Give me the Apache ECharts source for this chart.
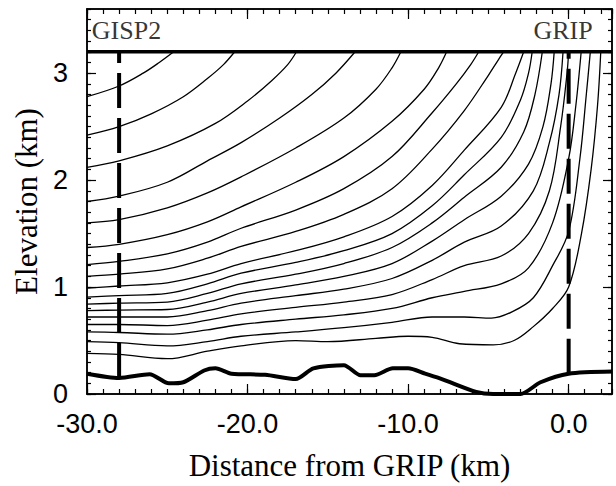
<!DOCTYPE html>
<html>
<head>
<meta charset="utf-8">
<script src="https://cdn.jsdelivr.net/npm/echarts@6/dist/echarts.min.js"></script>
<style>
  html, body { margin: 0; padding: 0; background: #fff; }
  #chart { width: 616px; height: 486px; }
</style>
</head>
<body>
<div id="chart"></div>
<script>
// isochrones, [distance km, elevation km]
const iso01 = [[-30, 2.78], [-28, 2.88], [-26.5, 3.0], [-25.5, 3.1], [-24.6, 3.2]];
const iso02 = [[-30, 2.42], [-28, 2.50], [-26, 2.62], [-24, 2.78], [-22.5, 2.95], [-21.5, 3.08], [-20.8, 3.2]];
const iso03 = [[-30, 2.12], [-28, 2.18], [-25, 2.32], [-22, 2.53], [-20, 2.74], [-18.5, 2.93], [-17.5, 3.08], [-16.95, 3.2]];
const iso04 = [[-30, 1.80], [-28, 1.85], [-25, 1.98], [-22.5, 2.18], [-20.4, 2.35], [-18, 2.58], [-16, 2.8], [-14.5, 3.0], [-13.3, 3.2]];
const iso05 = [[-30, 1.60], [-28, 1.63], [-25, 1.74], [-22.5, 1.88], [-20.4, 2.03], [-17, 2.3], [-14, 2.58], [-12, 2.85], [-11, 3.05], [-10.45, 3.2]];
const iso06 = [[-30, 1.37], [-28, 1.40], [-25, 1.49], [-22.5, 1.61], [-20.4, 1.75], [-17, 1.98], [-14, 2.22], [-11, 2.55], [-9, 2.85], [-8.1, 3.05], [-7.6, 3.2]];
const iso07 = [[-30, 1.21], [-28, 1.24], [-25, 1.31], [-22.5, 1.42], [-20.4, 1.55], [-17, 1.72], [-14, 1.92], [-11, 2.22], [-8.5, 2.63], [-7, 2.9], [-6.1, 3.08], [-5.6, 3.2]];
const iso08 = [[-30, 1.10], [-28, 1.12], [-25, 1.17], [-22.5, 1.27], [-20.4, 1.38], [-17, 1.52], [-14, 1.68], [-11, 1.92], [-8.5, 2.29], [-6.5, 2.65], [-5, 2.98], [-4.4, 3.12], [-4.05, 3.2]];
const iso09 = [[-30, 0.99], [-28, 1.01], [-25, 1.04], [-22.5, 1.12], [-20.4, 1.22], [-17, 1.34], [-14, 1.47], [-11, 1.66], [-8.5, 1.95], [-6.5, 2.28], [-4.2, 2.68], [-3.3, 3.0], [-2.8, 3.2]];
const iso10 = [[-30, 0.905], [-28, 0.92], [-25, 0.94], [-22.5, 1.03], [-20.4, 1.13], [-17, 1.23], [-14, 1.34], [-11, 1.50], [-8.5, 1.76], [-6.5, 2.05], [-4.2, 2.40], [-3, 2.75], [-2.5, 3.0], [-2.27, 3.2]];
const iso11 = [[-30, 0.84], [-28, 0.85], [-25, 0.86], [-22.5, 0.94], [-20.4, 1.03], [-17, 1.12], [-14, 1.22], [-11, 1.37], [-8.5, 1.60], [-6.5, 1.84], [-4.2, 2.12], [-2.8, 2.45], [-2.1, 2.8], [-1.64, 3.2]];
const iso12 = [[-30, 0.78], [-28, 0.785], [-25, 0.79], [-22.5, 0.86], [-20.4, 0.94], [-17, 1.02], [-14, 1.10], [-11, 1.22], [-8.5, 1.43], [-6.5, 1.63], [-4.2, 1.85], [-2.5, 2.15], [-1.6, 2.5], [-1.1, 2.9], [-0.9, 3.2]];
const iso13 = [[-30, 0.72], [-28, 0.72], [-25, 0.72], [-22.5, 0.78], [-20.4, 0.85], [-17, 0.92], [-14, 0.98], [-11, 1.08], [-8.5, 1.25], [-6.5, 1.42], [-4.2, 1.57], [-2.2, 1.9], [-1.2, 2.35], [-0.6, 2.8], [-0.35, 3.2]];
const iso14 = [[-30, 0.65], [-28, 0.65], [-25, 0.64], [-22.5, 0.69], [-20.4, 0.75], [-17, 0.81], [-14, 0.86], [-11, 0.93], [-8.5, 1.07], [-6.5, 1.2], [-4.2, 1.29], [-2.5, 1.5], [-1.2, 1.9], [-0.5, 2.5], [-0.1, 3.0], [0, 3.2]];
const iso15 = [[-30, 0.58], [-28, 0.575], [-25, 0.56], [-22.5, 0.60], [-20.4, 0.65], [-17, 0.70], [-14, 0.74], [-11, 0.80], [-8.5, 0.90], [-6.5, 0.96], [-4.2, 1.03], [-2.5, 1.18], [-1, 1.6], [0, 2.2], [0.45, 2.7], [0.78, 3.2]];
const iso16 = [[-30, 0.49], [-28, 0.48], [-25, 0.45], [-22.5, 0.49], [-20.4, 0.54], [-17, 0.58], [-14, 0.62], [-11, 0.67], [-8.5, 0.72], [-6.5, 0.72], [-4.8, 0.71], [-3.5, 0.77], [-2.2, 0.9], [-1, 1.2], [0, 1.52], [0.7, 2.2], [1.1, 2.8], [1.35, 3.2]];
const iso17 = [[-30, 0.38], [-28, 0.37], [-25, 0.33], [-22.5, 0.40], [-20.4, 0.45], [-17, 0.50], [-15, 0.49], [-12, 0.52], [-10, 0.54], [-8.5, 0.53], [-6.8, 0.47], [-4.7, 0.46], [-3.4, 0.50], [-2.2, 0.63], [-1, 0.8], [0, 1.0], [0.8, 1.5], [1.4, 2.1], [1.8, 2.7], [2.0, 3.2]];
const isochrones = [iso01, iso02, iso03, iso04, iso05, iso06, iso07, iso08, iso09,
  iso10, iso11, iso12, iso13, iso14, iso15, iso16, iso17];

// bedrock profile
const bedX = [-30, -28, -26.1, -24.9, -24, -22.7, -22, -21, -18.9, -17, -15.9, -14, -12.96, -12.1, -10.95, -10, -8.94, -7.9, -5.76, -4.7, -3, -1.75, 0, 2.7];
const bedY = [0.19, 0.15, 0.185, 0.10, 0.11, 0.22, 0.24, 0.19, 0.18, 0.14, 0.24, 0.27, 0.175, 0.175, 0.24, 0.24, 0.19, 0.14, 0.02, 0.0, 0.0, 0.11, 0.19, 0.21];

// ice surface
const surfaceX = [-30, 2.7];
const surfaceY = [3.2, 3.2];

// drill sites
const siteNames = ['GISP2', 'GRIP'];
const siteX = [-28, 0];
const siteBedY = [0.15, 0.19];

const xMin = -30, xMax = 2.7, yMin = 0, yMax = 3.6;

const black = '#000';
const frameLine = { show: true, onZero: false, lineStyle: { color: black, width: 1.5 } };
const ticks = len => ({ inside: true, length: len, lineStyle: { color: black, width: 1.2 } });

const xAxis = (position, interval, len, extra) => Object.assign({
  type: 'value', position, min: xMin, max: xMax, interval,
  splitLine: { show: false }, axisLine: frameLine, axisTick: ticks(len),
  axisLabel: { show: false }
}, extra);

const yAxis = (position, interval, len, extra) => Object.assign({
  type: 'value', position, min: yMin, max: yMax, interval,
  splitLine: { show: false }, axisLine: frameLine, axisTick: ticks(len),
  axisLabel: { show: false }
}, extra);

const xAxes = [
  xAxis('bottom', 1, 5),
  xAxis('bottom', 10, 10, {
    axisLabel: {
      show: true, showMaxLabel: false, margin: 16, color: black,
      fontFamily: 'Liberation Sans', fontSize: 27,
      formatter: v => v.toFixed(1)
    },
    name: 'Distance from GRIP (km)', nameLocation: 'middle', nameGap: 56,
    nameTextStyle: { fontFamily: 'Liberation Serif', fontSize: 31, color: black }
  }),
  xAxis('top', 1, 5),
  xAxis('top', 10, 10)
];

const yAxes = [
  yAxis('left', 0.1, 4),
  yAxis('left', 1, 9, {
    axisLabel: {
      show: true, showMaxLabel: false, margin: 19, color: black,
      fontFamily: 'Liberation Sans', fontSize: 27
    },
    name: 'Elevation (km)', nameLocation: 'middle', nameGap: 44,
    nameTextStyle: { fontFamily: 'Liberation Serif', fontSize: 31, color: black }
  }),
  yAxis('right', 0.1, 4),
  yAxis('right', 1, 9)
];

const series = isochrones.map(pts => ({
  type: 'line', data: pts, smooth: 0.35, showSymbol: false, silent: true,
  lineStyle: { color: black, width: 1.3 }
}));

series.push({
  type: 'line', data: bedX.map((x, i) => [x, bedY[i]]), smooth: 0.25, showSymbol: false,
  lineStyle: { color: black, width: 4 }
});
series.push({
  type: 'line', data: surfaceX.map((x, i) => [x, surfaceY[i]]), showSymbol: false,
  lineStyle: { color: black, width: 3.5 }
});
siteX.forEach((x, i) => {
  series.push({
    type: 'line', data: [[x, siteBedY[i]], [x, surfaceY[0]]], showSymbol: false,
    lineStyle: { color: black, width: 4, type: [35, 10], cap: 'butt' }
  });
});
// site names in the band above the surface
series.push({
  type: 'scatter', symbolSize: 0,
  data: [
    { value: [siteX[0] - 1.7, 3.4], label: { align: 'left' } },
    { value: [siteX[1] + 1.5, 3.4], label: { align: 'right' } }
  ],
  label: {
    show: true, position: 'inside', color: black,
    fontFamily: 'Liberation Serif', fontSize: 26,
    formatter: p => siteNames[p.dataIndex]
  }
});

const chart = echarts.init(document.getElementById('chart'), null, { renderer: 'svg' });
chart.setOption({
  animation: false,
  backgroundColor: '#fff',
  grid: { left: 87, right: 4, top: 9, bottom: 88 },
  xAxis: xAxes,
  yAxis: yAxes,
  series: series
});
</script>
</body>
</html>
